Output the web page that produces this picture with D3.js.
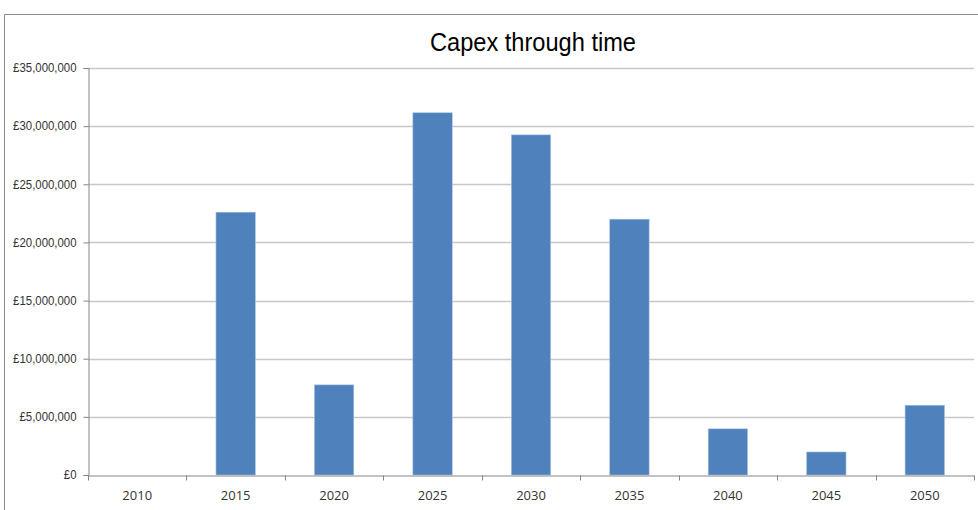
<!DOCTYPE html>
<html><head><meta charset="utf-8">
<script src="https://cdn.jsdelivr.net/npm/d3@7"></script>
<style>body{margin:0;background:#fff}svg{display:block}</style>
</head><body>
<script>
const years = ["2010","2015","2020","2025","2030","2035","2040","2045","2050"];
const capex = [0, 22600000, 7750000, 31150000, 29250000, 22000000, 3970000, 1980000, 6000000];
const yTicks = [0, 5000000, 10000000, 15000000, 20000000, 25000000, 30000000, 35000000];
const title = "Capex through time";

const W = 978, H = 510;
const svg = d3.select("body").append("svg").attr("width", W).attr("height", H);
const m = {l: 88, r: 974, t: 68, b: 475};

// outer frame
svg.append("path").attr("d", `M4.5,${H} L4.5,14.5 L${W},14.5`).attr("fill","none").attr("stroke","#8c8c8c").attr("stroke-width",1);

const x = d3.scaleBand().domain(years).range([m.l, m.r]).paddingInner(0).paddingOuter(0);
const y = d3.scaleLinear().domain([0, 35000000]).range([m.b, m.t]);

// gridlines
svg.append("g").selectAll("line").data(yTicks.slice(1)).join("line")
  .attr("x1", m.l).attr("x2", m.r)
  .attr("y1", d => Math.round(y(d)) + 0.5).attr("y2", d => Math.round(y(d)) + 0.5)
  .attr("stroke", "#c8c8c8").attr("stroke-width", 1.4);

// bars
const bw = x.bandwidth() * 0.4;
svg.append("g").selectAll("rect").data(years.map((c,i)=>({c, v: capex[i]}))).join("rect")
  .attr("x", d => x(d.c) + (x.bandwidth() - bw) / 2)
  .attr("width", bw)
  .attr("y", d => y(d.v))
  .attr("height", d => y(0) - y(d.v))
  .attr("fill", "#4f81bd")
  .attr("stroke", d => d.v > 0 ? "#a9c1df" : "none")
  .attr("stroke-width", 0.6);

// y axis
const fmt = d => "£" + d3.format(",")(d);
const yAxis = svg.append("g").attr("transform", `translate(${m.l + 0.5},0)`)
  .call(d3.axisLeft(y).tickValues(yTicks).tickFormat(fmt).tickSize(5).tickPadding(7));
yAxis.select(".domain").attr("stroke", "#868686");
yAxis.selectAll(".tick line").attr("stroke", "#868686");
yAxis.selectAll("text").attr("font-family", "'Liberation Sans', sans-serif")
  .attr("font-size", 12).attr("fill", "#333")
  .attr("textLength", function(){ return this.getComputedTextLength() * 0.95; })
  .attr("lengthAdjust", "spacingAndGlyphs");

// x axis
const xAxis = svg.append("g").attr("transform", `translate(0,${m.b + 0.5})`)
  .call(d3.axisBottom(x).tickSize(0).tickPadding(15));
xAxis.select(".domain").attr("stroke", "#868686");
xAxis.selectAll("text").attr("font-family", "'Open Sans', sans-serif")
  .attr("font-size", 13).attr("fill", "#333");
// category boundary ticks
const bounds = years.map(c => x(c)).concat([m.r]);
xAxis.append("g").selectAll("line").data(bounds).join("line")
  .attr("x1", d => Math.round(d) + 0.5).attr("x2", d => Math.round(d) + 0.5)
  .attr("y1", 0).attr("y2", 5).attr("stroke", "#868686");

// title
svg.append("text").attr("x", 533).attr("y", 51).attr("text-anchor", "middle")
  .attr("font-family", "'Liberation Sans', sans-serif")
  .attr("font-size", 26).attr("fill", "#000")
  .attr("textLength", 206).attr("lengthAdjust", "spacingAndGlyphs")
  .text(title);
</script>
</body></html>
